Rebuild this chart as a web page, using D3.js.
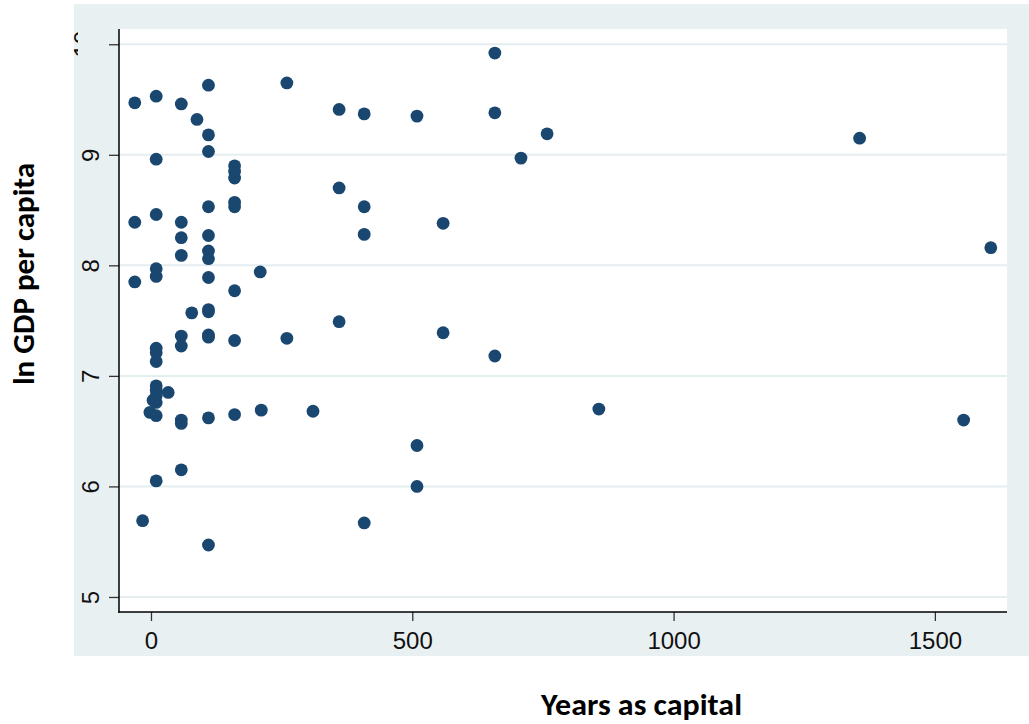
<!DOCTYPE html>
<html>
<head>
<meta charset="utf-8">
<script src="https://cdn.jsdelivr.net/npm/d3@7"></script>
<style>
  html, body { margin: 0; padding: 0; background: #ffffff; }
  svg { display: block; }
</style>
</head>
<body>
<svg id="chart" width="1029" height="724"></svg>
<script>
// ---- Data ----
const yearsAsCapital = [
  -31, 10, 58, 110, 88, 110, 110, 10, 260, 360, 408, 509, 658, 658, 758, 708, 1356,
  160, 160, 160, 360, 160, 160, 110, 408, 10, -31, 58, 559, 58, 110, 408,
  110, 58, 110, 10, 10, 209, -31, 110, 160, 1607,
  78, 110, 110, 360, 559, 58, 110, 110, 260, 160, 58, 10, 10, 10, 658,
  10, 10, 33, 10, 4, 10, -2, 10, 211, 160, 110, 58, 58, 310, 857, 1555,
  509, 58, 10, 509, -16, 408, 110
];
const lnGdpPerCapita = [
  9.47, 9.53, 9.46, 9.63, 9.32, 9.18, 9.03, 8.96, 9.65, 9.41, 9.37, 9.35, 9.92, 9.38, 9.19, 8.97, 9.15,
  8.90, 8.85, 8.79, 8.70, 8.57, 8.53, 8.53, 8.53, 8.46, 8.39, 8.39, 8.38, 8.25, 8.27, 8.28,
  8.13, 8.09, 8.06, 7.97, 7.90, 7.94, 7.85, 7.89, 7.77, 8.16,
  7.57, 7.60, 7.58, 7.49, 7.39, 7.36, 7.37, 7.35, 7.34, 7.32, 7.27, 7.25, 7.21, 7.13, 7.18,
  6.91, 6.87, 6.85, 6.82, 6.78, 6.76, 6.67, 6.64, 6.69, 6.65, 6.62, 6.60, 6.57, 6.68, 6.70, 6.60,
  6.37, 6.15, 6.05, 6.00, 5.69, 5.67, 5.47
];
const xTickValues = [0, 500, 1000, 1500];
const yTickValues = [5, 6, 7, 8, 9, 10];
const xTitle = "Years as capital";
const yTitle = "ln GDP per capita";

// ---- Layout ----
const svg = d3.select("#chart");
const bg = { x: 74, y: 4, w: 955, h: 652 };
const plot = { left: 119, right: 1007, top: 29, bottom: 612 };

const x = d3.scaleLinear().domain([-61.2, 1638]).range([plot.left, plot.right]);
const y = d3.scaleLinear().domain([4.864, 10.138]).range([plot.bottom, plot.top]);

// outer graph region
svg.append("rect").attr("x", bg.x).attr("y", bg.y).attr("width", bg.w).attr("height", bg.h)
  .attr("fill", "#e9f0f2");
// plot region
svg.append("rect").attr("x", plot.left).attr("y", plot.top)
  .attr("width", plot.right - plot.left).attr("height", plot.bottom - plot.top)
  .attr("fill", "#ffffff");

// gridlines
svg.append("g").selectAll("line").data(yTickValues).join("line")
  .attr("x1", plot.left).attr("x2", plot.right)
  .attr("y1", d => y(d)).attr("y2", d => y(d))
  .attr("stroke", "#e4edf0").attr("stroke-width", 2);

// Y axis
const yAxis = d3.axisLeft(y).tickValues(yTickValues).tickSize(10).tickPadding(0).tickFormat(d3.format("d"));
const gy = svg.append("g").attr("transform", `translate(${plot.left},0)`).call(yAxis);
gy.select(".domain").remove();
gy.selectAll(".tick line").attr("stroke", "#333").attr("stroke-width", 1.3);
gy.selectAll(".tick text")
  .attr("x", null).attr("dy", null)
  .attr("transform", "translate(-20,0) rotate(-90)")
  .attr("text-anchor", "middle")
  .attr("font-family", "'Liberation Sans', Arial, sans-serif")
  .attr("font-size", 24).attr("fill", "#111");
// the top label is mostly hidden in the reference
svg.append("clipPath").attr("id", "clip10").append("rect")
  .attr("x", 66).attr("y", 26).attr("width", 12).attr("height", 34);
gy.selectAll(".tick").filter(d => d === 10).select("text")
  .attr("transform", "translate(-28,0) rotate(-90)")
  .attr("clip-path", null);
gy.selectAll(".tick").filter(d => d === 10).each(function () {
  const t = d3.select(this).select("text").remove();
  svg.append("g").attr("clip-path", "url(#clip10)")
    .append("text")
    .attr("transform", `translate(${plot.left - 28},${y(10)}) rotate(-90)`)
    .attr("text-anchor", "middle")
    .attr("font-family", "'Liberation Sans', Arial, sans-serif")
    .attr("font-size", 24).attr("fill", "#111")
    .text("10");
});

// X axis
const xAxis = d3.axisBottom(x).tickValues(xTickValues).tickSize(9).tickPadding(10).tickFormat(d3.format("d"));
const gx = svg.append("g").attr("transform", `translate(0,${plot.bottom})`).call(xAxis);
gx.select(".domain").remove();
gx.selectAll(".tick line").attr("stroke", "#333").attr("stroke-width", 1.3);
gx.selectAll(".tick text")
  .attr("dy", null).attr("y", 37)
  .attr("font-family", "'Liberation Sans', Arial, sans-serif")
  .attr("font-size", 24).attr("fill", "#111");

// axis lines
svg.append("line").attr("x1", plot.left).attr("x2", plot.left)
  .attr("y1", plot.top).attr("y2", plot.bottom + 0.75)
  .attr("stroke", "#000").attr("stroke-width", 1.5);
svg.append("line").attr("x1", plot.left - 0.75).attr("x2", plot.right)
  .attr("y1", plot.bottom).attr("y2", plot.bottom)
  .attr("stroke", "#000").attr("stroke-width", 1.5);

// points
svg.append("g").selectAll("circle").data(yearsAsCapital.map((d, i) => [d, lnGdpPerCapita[i]]))
  .join("circle")
  .attr("cx", d => x(d[0])).attr("cy", d => y(d[1]))
  .attr("r", 6.4)
  .attr("fill", "#1a476f");

// titles
svg.append("text")
  .attr("x", 641.5).attr("y", 715)
  .attr("text-anchor", "middle")
  .attr("font-family", "Carlito, Calibri, Lato, 'Open Sans', sans-serif")
  .attr("font-weight", "bold").attr("font-size", 30)
  .attr("textLength", 201).attr("lengthAdjust", "spacingAndGlyphs")
  .attr("fill", "#000")
  .text(xTitle);

svg.append("text")
  .attr("transform", "translate(34,274) rotate(-90)")
  .attr("text-anchor", "middle")
  .attr("font-family", "Carlito, Calibri, Lato, 'Open Sans', sans-serif")
  .attr("font-weight", "bold").attr("font-size", 30)
  .attr("textLength", 222).attr("lengthAdjust", "spacingAndGlyphs")
  .attr("fill", "#000")
  .text(yTitle);
</script>
</body>
</html>
